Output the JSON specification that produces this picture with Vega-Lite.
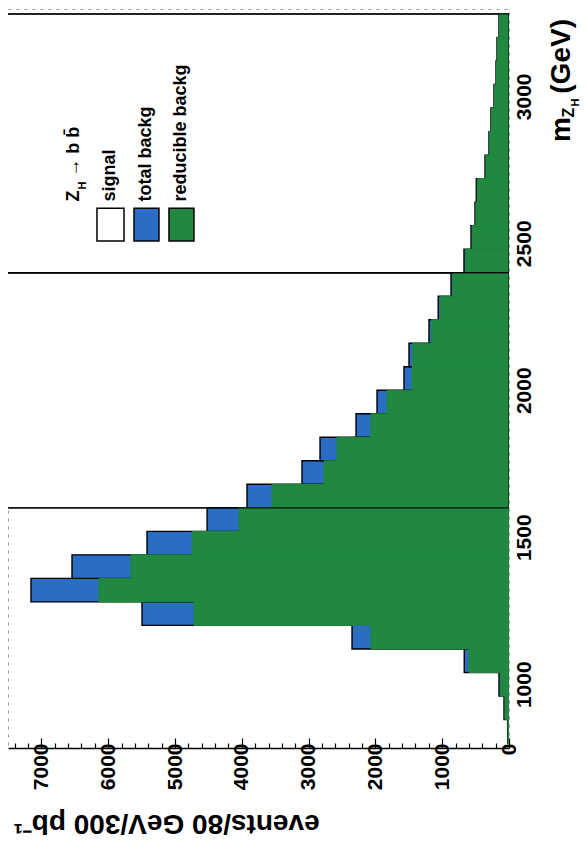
{
  "$schema": "https://vega.github.io/schema/vega-lite/v6.json",
  "width": 501,
  "height": 739,
  "padding": {"left": 3, "top": 9, "right": 0, "bottom": 8},
  "background": "white",
  "config": {
    "view": {"stroke": "#9a9a9a", "strokeDash": [3, 5], "strokeWidth": 1},
    "font": "Liberation Sans",
    "axis": {"labelOverlap": false}
  },
  "resolve": {"axis": {"x": "independent", "y": "independent"}},
  "datasets": {
    "hist": [
      {"lo": 1600, "hi": 2400, "series": "signal", "value": 30000},
      {"lo": 2400, "hi": 3280, "series": "signal", "value": 30000},
      {"lo": 800, "hi": 880, "series": "total backg", "value": 20},
      {"lo": 880, "hi": 960, "series": "total backg", "value": 75},
      {"lo": 960, "hi": 1040, "series": "total backg", "value": 150},
      {"lo": 1040, "hi": 1120, "series": "total backg", "value": 670},
      {"lo": 1120, "hi": 1200, "series": "total backg", "value": 2350},
      {"lo": 1200, "hi": 1280, "series": "total backg", "value": 5494},
      {"lo": 1280, "hi": 1360, "series": "total backg", "value": 7156},
      {"lo": 1360, "hi": 1440, "series": "total backg", "value": 6542},
      {"lo": 1440, "hi": 1520, "series": "total backg", "value": 5419},
      {"lo": 1520, "hi": 1600, "series": "total backg", "value": 4520},
      {"lo": 1600, "hi": 1680, "series": "total backg", "value": 3922},
      {"lo": 1680, "hi": 1760, "series": "total backg", "value": 3099},
      {"lo": 1760, "hi": 1840, "series": "total backg", "value": 2829},
      {"lo": 1840, "hi": 1920, "series": "total backg", "value": 2290},
      {"lo": 1920, "hi": 2000, "series": "total backg", "value": 1976},
      {"lo": 2000, "hi": 2080, "series": "total backg", "value": 1572},
      {"lo": 2080, "hi": 2160, "series": "total backg", "value": 1497},
      {"lo": 2160, "hi": 2240, "series": "total backg", "value": 1198},
      {"lo": 2240, "hi": 2320, "series": "total backg", "value": 1060},
      {"lo": 2320, "hi": 2400, "series": "total backg", "value": 868},
      {"lo": 2400, "hi": 2480, "series": "total backg", "value": 674},
      {"lo": 2480, "hi": 2560, "series": "total backg", "value": 569},
      {"lo": 2560, "hi": 2640, "series": "total backg", "value": 509},
      {"lo": 2640, "hi": 2720, "series": "total backg", "value": 490},
      {"lo": 2720, "hi": 2800, "series": "total backg", "value": 359},
      {"lo": 2800, "hi": 2880, "series": "total backg", "value": 300},
      {"lo": 2880, "hi": 2960, "series": "total backg", "value": 270},
      {"lo": 2960, "hi": 3040, "series": "total backg", "value": 225},
      {"lo": 3040, "hi": 3120, "series": "total backg", "value": 195},
      {"lo": 3120, "hi": 3200, "series": "total backg", "value": 180},
      {"lo": 3200, "hi": 3280, "series": "total backg", "value": 150},
      {"lo": 800, "hi": 880, "series": "reducible backg", "value": 15},
      {"lo": 880, "hi": 960, "series": "reducible backg", "value": 60},
      {"lo": 960, "hi": 1040, "series": "reducible backg", "value": 130},
      {"lo": 1040, "hi": 1120, "series": "reducible backg", "value": 600},
      {"lo": 1120, "hi": 1200, "series": "reducible backg", "value": 2066},
      {"lo": 1200, "hi": 1280, "series": "reducible backg", "value": 4716},
      {"lo": 1280, "hi": 1360, "series": "reducible backg", "value": 6138},
      {"lo": 1360, "hi": 1440, "series": "reducible backg", "value": 5659},
      {"lo": 1440, "hi": 1520, "series": "reducible backg", "value": 4745},
      {"lo": 1520, "hi": 1600, "series": "reducible backg", "value": 4042},
      {"lo": 1600, "hi": 1680, "series": "reducible backg", "value": 3548},
      {"lo": 1680, "hi": 1760, "series": "reducible backg", "value": 2769},
      {"lo": 1760, "hi": 1840, "series": "reducible backg", "value": 2575},
      {"lo": 1840, "hi": 1920, "series": "reducible backg", "value": 2066},
      {"lo": 1920, "hi": 2000, "series": "reducible backg", "value": 1826},
      {"lo": 2000, "hi": 2080, "series": "reducible backg", "value": 1452},
      {"lo": 2080, "hi": 2160, "series": "reducible backg", "value": 1440},
      {"lo": 2160, "hi": 2240, "series": "reducible backg", "value": 1160},
      {"lo": 2240, "hi": 2320, "series": "reducible backg", "value": 1030},
      {"lo": 2320, "hi": 2400, "series": "reducible backg", "value": 840},
      {"lo": 2400, "hi": 2480, "series": "reducible backg", "value": 650},
      {"lo": 2480, "hi": 2560, "series": "reducible backg", "value": 550},
      {"lo": 2560, "hi": 2640, "series": "reducible backg", "value": 495},
      {"lo": 2640, "hi": 2720, "series": "reducible backg", "value": 475},
      {"lo": 2720, "hi": 2800, "series": "reducible backg", "value": 345},
      {"lo": 2800, "hi": 2880, "series": "reducible backg", "value": 290},
      {"lo": 2880, "hi": 2960, "series": "reducible backg", "value": 260},
      {"lo": 2960, "hi": 3040, "series": "reducible backg", "value": 218},
      {"lo": 3040, "hi": 3120, "series": "reducible backg", "value": 188},
      {"lo": 3120, "hi": 3200, "series": "reducible backg", "value": 174},
      {"lo": 3200, "hi": 3280, "series": "reducible backg", "value": 145}
    ],
    "one": [{"note": "annotation"}]
  },
  "layer": [
    {
      "data": {"name": "hist"},
      "encoding": {
        "y": {
          "field": "lo", "type": "quantitative",
          "scale": {"domain": [800, 3280], "nice": false, "zero": false},
          "axis": {
            "orient": "right",
            "values": [1000, 1500, 2000, 2500, 3000],
            "format": "d",
            "domain": false,
            "ticks": false,
            "grid": false,
            "labelAngle": -90,
            "labelAlign": "center",
            "labelBaseline": "top",
            "labelPadding": 4,
            "labelFont": "Liberation Sans",
            "labelFontSize": 21,
            "labelFontWeight": "bold",
            "labelColor": "black",
            "title": "m\u00a0\u00a0\u00a0(GeV)",
            "titleFont": "Liberation Sans",
            "titleFontSize": 28,
            "titleFontWeight": "bold",
            "titleColor": "black",
            "titleAngle": -90,
            "titleAlign": "center",
            "titleBaseline": "alphabetic",
            "titleX": 60,
            "titleY": 71
          }
        },
        "y2": {"field": "hi"},
        "x": {
          "field": "value", "type": "quantitative",
          "scale": {"domain": [0, 7500], "reverse": true, "nice": false},
          "axis": {
            "orient": "bottom",
            "values": [0, 200, 400, 600, 800, 1000, 1200, 1400, 1600, 1800, 2000, 2200, 2400, 2600, 2800, 3000, 3200, 3400, 3600, 3800, 4000, 4200, 4400, 4600, 4800, 5000, 5200, 5400, 5600, 5800, 6000, 6200, 6400, 6600, 6800, 7000, 7200, 7400],
            "format": "d",
            "labelExpr": "datum.value % 1000 === 0 ? datum.label : ''",
            "grid": false,
            "domain": true,
            "domainColor": "black",
            "domainWidth": 1.5,
            "ticks": true,
            "tickColor": "black",
            "tickWidth": 1.2,
            "tickSize": {"condition": {"test": "datum.value % 1000 === 0", "value": -10}, "value": -5},
            "labelAngle": -90,
            "labelAlign": "right",
            "labelBaseline": "middle",
            "labelPadding": 5,
            "labelFont": "Liberation Sans",
            "labelFontSize": 21,
            "labelFontWeight": "bold",
            "labelColor": "black",
            "labelOverlap": false,
            "title": "events/80 GeV/300 pb\u207b\u00b9",
            "titleFont": "Liberation Sans",
            "titleFontSize": 28,
            "titleFontWeight": "bold",
            "titleColor": "black",
            "titleAngle": 180,
            "titleAlign": "center",
            "titleBaseline": "alphabetic",
            "titleX": 158,
            "titleY": 66
          }
        },
        "color": {
          "field": "series", "type": "nominal",
          "scale": {"domain": ["signal", "total backg", "reducible backg"], "range": ["#ffffff", "#2b6cc4", "#20883f"]},
          "legend": null
        }
      },
      "layer": [
        {"transform": [{"filter": "datum.series === 'signal'"}], "mark": {"type": "bar", "orient": "horizontal", "clip": true, "stroke": "black", "strokeWidth": 1.4, "opacity": 1}},
        {"transform": [{"filter": "datum.series === 'total backg'"}], "mark": {"type": "bar", "orient": "horizontal", "clip": true, "stroke": "black", "strokeWidth": 1.4, "opacity": 1}},
        {"transform": [{"filter": "datum.series === 'reducible backg'"}], "mark": {"type": "bar", "orient": "horizontal", "clip": true, "opacity": 1, "stroke": "#20883f", "strokeWidth": 1}},
        {"transform": [{"filter": "datum.series === 'signal'"}], "mark": {"type": "bar", "orient": "horizontal", "clip": true, "fillOpacity": 0, "stroke": "black", "strokeWidth": 1.2, "strokeOpacity": 0.85}}
      ]
    },
    {
      "data": {"name": "one"},
      "mark": {"type": "rect", "stroke": "black", "strokeWidth": 1.5, "opacity": 1},
      "encoding": {
        "x": {"datum": 6168, "type": "quantitative", "axis": null}, "x2": {"datum": 5763},
        "y": {"datum": 2619, "type": "quantitative", "axis": null}, "y2": {"datum": 2508},
        "color": {"datum": "signal", "type": "nominal", "legend": null}
      }
    },
    {
      "data": {"name": "one"},
      "mark": {"type": "rect", "stroke": "black", "strokeWidth": 1.5, "opacity": 1},
      "encoding": {
        "x": {"datum": 5614, "type": "quantitative", "axis": null}, "x2": {"datum": 5240},
        "y": {"datum": 2619, "type": "quantitative", "axis": null}, "y2": {"datum": 2508},
        "color": {"datum": "total backg", "type": "nominal", "legend": null}
      }
    },
    {
      "data": {"name": "one"},
      "mark": {"type": "rect", "stroke": "black", "strokeWidth": 1.5, "opacity": 1},
      "encoding": {
        "x": {"datum": 5090, "type": "quantitative", "axis": null}, "x2": {"datum": 4716},
        "y": {"datum": 2619, "type": "quantitative", "axis": null}, "y2": {"datum": 2508},
        "color": {"datum": "reducible backg", "type": "nominal", "legend": null}
      }
    },
    {
      "data": {"name": "one"},
      "mark": {"type": "text", "text": "signal", "angle": 270, "align": "left", "baseline": "middle", "font": "Liberation Sans", "fontSize": 18, "fontWeight": "bold", "color": "black"},
      "encoding": {"x": {"datum": 5973, "type": "quantitative", "axis": null}, "y": {"datum": 2642, "type": "quantitative", "axis": null}}
    },
    {
      "data": {"name": "one"},
      "mark": {"type": "text", "text": "total backg", "angle": 270, "align": "left", "baseline": "middle", "font": "Liberation Sans", "fontSize": 18, "fontWeight": "bold", "color": "black"},
      "encoding": {"x": {"datum": 5427, "type": "quantitative", "axis": null}, "y": {"datum": 2642, "type": "quantitative", "axis": null}}
    },
    {
      "data": {"name": "one"},
      "mark": {"type": "text", "text": "reducible backg", "angle": 270, "align": "left", "baseline": "middle", "font": "Liberation Sans", "fontSize": 18, "fontWeight": "bold", "color": "black"},
      "encoding": {"x": {"datum": 4903, "type": "quantitative", "axis": null}, "y": {"datum": 2642, "type": "quantitative", "axis": null}}
    },
    {
      "data": {"name": "one"},
      "mark": {"type": "text", "text": "Z", "angle": 270, "align": "left", "baseline": "alphabetic", "font": "Liberation Sans", "fontSize": 18, "fontWeight": "bold", "color": "black"},
      "encoding": {"x": {"datum": 6437, "type": "quantitative", "axis": null}, "y": {"datum": 2642, "type": "quantitative", "axis": null}}
    },
    {
      "data": {"name": "one"},
      "mark": {"type": "text", "text": "H", "angle": 270, "align": "left", "baseline": "alphabetic", "font": "Liberation Sans", "fontSize": 11, "fontWeight": "bold", "color": "black"},
      "encoding": {"x": {"datum": 6332, "type": "quantitative", "axis": null}, "y": {"datum": 2683, "type": "quantitative", "axis": null}}
    },
    {
      "data": {"name": "one"},
      "mark": {"type": "text", "text": "\u2192 b b\u0304", "angle": 270, "align": "left", "baseline": "alphabetic", "font": "Liberation Sans", "fontSize": 18, "fontWeight": "bold", "color": "black"},
      "encoding": {"x": {"datum": 6437, "type": "quantitative", "axis": null}, "y": {"datum": 2726, "type": "quantitative", "axis": null}}
    },
    {
      "data": {"name": "one"},
      "mark": {"type": "text", "text": "Z", "angle": 270, "align": "left", "baseline": "alphabetic", "font": "Liberation Sans", "fontSize": 16, "fontWeight": "bold", "color": "black"},
      "encoding": {"x": {"datum": -973, "type": "quantitative", "axis": null}, "y": {"datum": 2928, "type": "quantitative", "axis": null}}
    },
    {
      "data": {"name": "one"},
      "mark": {"type": "text", "text": "H", "angle": 270, "align": "left", "baseline": "alphabetic", "font": "Liberation Sans", "fontSize": 11, "fontWeight": "bold", "color": "black"},
      "encoding": {"x": {"datum": -1048, "type": "quantitative", "axis": null}, "y": {"datum": 2965, "type": "quantitative", "axis": null}}
    }
  ]
}
